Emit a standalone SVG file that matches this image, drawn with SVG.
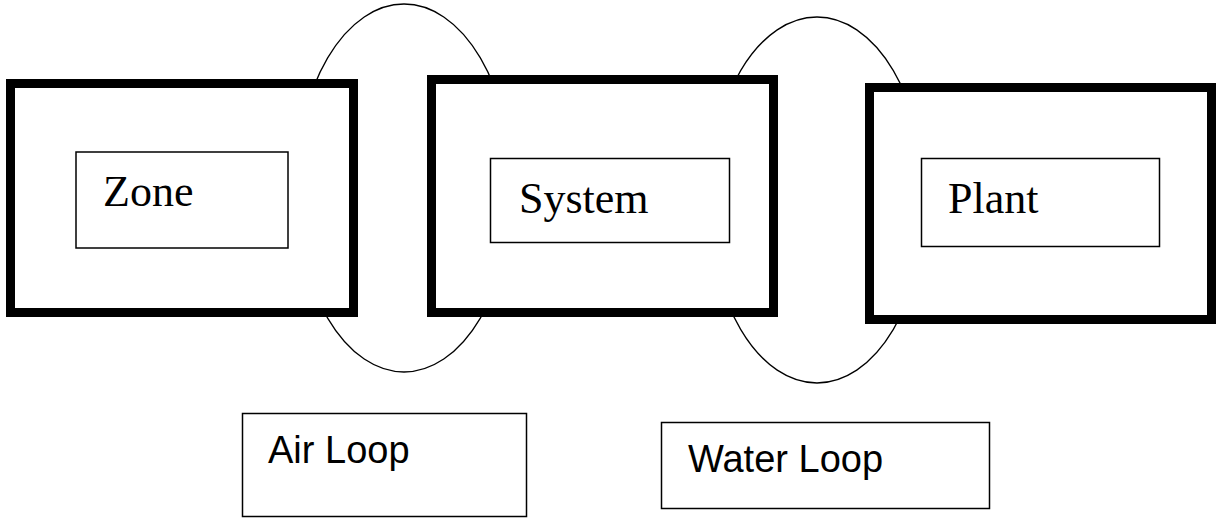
<svg xmlns="http://www.w3.org/2000/svg" width="1216" height="518" viewBox="0 0 1216 518">
<style>
.loop{fill:none;stroke:#000;stroke-width:1.3}
.outer{fill:#fff;stroke:#000;stroke-width:9}
.inner{fill:#fff;stroke:#000;stroke-width:1.5}
.lbl{fill:#fff;stroke:#000;stroke-width:1.5}
.serif{font-family:"Liberation Serif","Times New Roman",serif;font-size:44px;fill:#000}
.sans{font-family:"Liberation Sans",Arial,sans-serif;font-size:38px;fill:#000}
</style>
<rect width="1216" height="518" fill="#fff"/>
<g id="connectors">
<ellipse class="loop" cx="404" cy="188" rx="108" ry="184"/>
<ellipse class="loop" cx="817" cy="200" rx="108" ry="183"/>
</g>
<g id="zone">
<rect class="outer" x="10.5" y="83.5" width="343" height="229"/>
<rect class="inner" x="76" y="152" width="212" height="96"/>
<text class="serif" x="103" y="206">Zone</text>
</g>
<g id="system">
<rect class="outer" x="431.5" y="79.5" width="342" height="233"/>
<rect class="inner" x="490.5" y="158.5" width="239" height="84"/>
<text class="serif" x="519" y="213">System</text>
</g>
<g id="plant">
<rect class="outer" x="869.5" y="87.5" width="342" height="232"/>
<rect class="inner" x="921.5" y="158.5" width="238" height="88"/>
<text class="serif" x="948" y="213">Plant</text>
</g>
<g id="air-loop">
<rect class="lbl" x="242.5" y="413.5" width="284" height="103"/>
<text class="sans" x="268" y="463">Air Loop</text>
</g>
<g id="water-loop">
<rect class="lbl" x="661.5" y="422.5" width="328" height="86"/>
<text class="sans" x="688" y="471.5">Water Loop</text>
</g>
</svg>
